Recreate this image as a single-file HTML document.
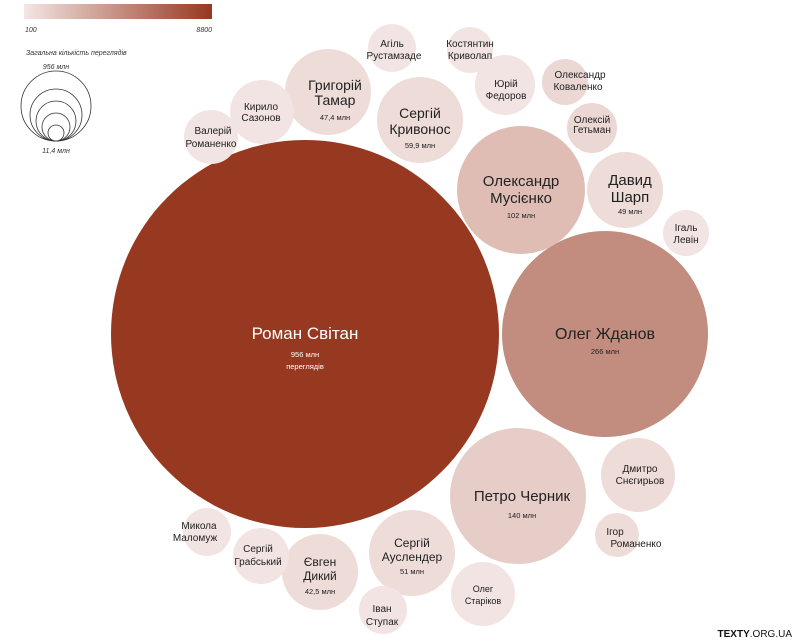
<!DOCTYPE html>
<html><head><meta charset="utf-8"><style>
html,body{margin:0;padding:0;background:#fff;}
svg{display:block;font-family:"Liberation Sans","DejaVu Sans",sans-serif;}
</style></head><body>
<svg width="797" height="643" viewBox="0 0 797 643" xmlns="http://www.w3.org/2000/svg">
<defs><linearGradient id="g" x1="0" x2="1"><stop offset="0" stop-color="#f3e6e4"/><stop offset="1" stop-color="#973820"/></linearGradient></defs>
<rect x="24" y="4" width="188" height="15" fill="url(#g)"/>
<g font-style="italic" font-size="7" fill="#333">
<text x="25" y="32">100</text><text x="212" y="32" text-anchor="end">8800</text>
<text x="26" y="55">Загальна кількість переглядів</text>
<text x="56" y="69" text-anchor="middle">956 млн</text>
<text x="56" y="153" text-anchor="middle">11,4 млн</text>
</g>
<g fill="none" stroke="#333" stroke-width="0.8">
<circle cx="56" cy="106" r="35"/><circle cx="56" cy="115" r="26"/><circle cx="56" cy="121" r="20"/><circle cx="56" cy="127" r="14"/><circle cx="56" cy="133" r="8"/>
</g>
<g>
<circle cx="305" cy="334" r="194" fill="#973820"/>
<circle cx="605" cy="334" r="103" fill="#c28c7e"/>
<circle cx="518" cy="496" r="68" fill="#e6cdc8"/>
<circle cx="521" cy="190" r="64" fill="#dfbdb5"/>
<circle cx="420" cy="120" r="43" fill="#eddcd8"/>
<circle cx="328" cy="92" r="43" fill="#eddcd8"/>
<circle cx="625" cy="190" r="38" fill="#eddcd8"/>
<circle cx="262" cy="112" r="32" fill="#f1e4e2"/>
<circle cx="211" cy="137" r="27" fill="#f1e4e2"/>
<circle cx="392" cy="48" r="24" fill="#f1e4e2"/>
<circle cx="470" cy="50" r="23" fill="#f1e4e2"/>
<circle cx="505" cy="85" r="30" fill="#f1e4e2"/>
<circle cx="565" cy="82" r="23" fill="#ebd8d5"/>
<circle cx="592" cy="128" r="25" fill="#ebd8d5"/>
<circle cx="686" cy="233" r="23" fill="#f1e4e2"/>
<circle cx="638" cy="475" r="37" fill="#eddcd8"/>
<circle cx="617" cy="535" r="22" fill="#eddcd8"/>
<circle cx="483" cy="594" r="32" fill="#f1e4e2"/>
<circle cx="412" cy="553" r="43" fill="#eddcd8"/>
<circle cx="320" cy="572" r="38" fill="#eddcd8"/>
<circle cx="383" cy="610" r="24" fill="#f1e4e2"/>
<circle cx="261" cy="556" r="28" fill="#f1e4e2"/>
<circle cx="207" cy="532" r="24" fill="#f1e4e2"/>
</g>
<g fill="#222" text-anchor="middle">
<text x="305" y="339" font-size="17" fill="#fff">Роман Світан</text>
<text x="305" y="357" font-size="7.5" fill="#fff">956 млн</text>
<text x="305" y="369" font-size="7.5" fill="#fff">переглядів</text>
<text x="605" y="339" font-size="16">Олег Жданов</text>
<text x="605" y="354" font-size="7.5">266 млн</text>
<text x="522" y="501" font-size="15">Петро Черник</text>
<text x="522" y="518" font-size="7.5">140 млн</text>
<text x="521" y="186" font-size="15">Олександр</text>
<text x="521" y="203" font-size="15">Мусієнко</text>
<text x="521" y="218" font-size="7.5">102 млн</text>
<text x="420" y="118" font-size="14">Сергій</text>
<text x="420" y="134" font-size="14">Кривонос</text>
<text x="420" y="148" font-size="7.5">59,9 млн</text>
<text x="335" y="90" font-size="14">Григорій</text>
<text x="335" y="105" font-size="14">Тамар</text>
<text x="335" y="120" font-size="7.5">47,4 млн</text>
<text x="630" y="185" font-size="15">Давид</text>
<text x="630" y="202" font-size="15">Шарп</text>
<text x="630" y="214" font-size="7.5">49 млн</text>
<text x="261" y="110" font-size="10">Кирило</text>
<text x="261" y="121" font-size="10">Сазонов</text>
<text x="213" y="134" font-size="10">Валерій</text>
<text x="211" y="147" font-size="10">Романенко</text>
<text x="392" y="47" font-size="10">Агіль</text>
<text x="394" y="59" font-size="10">Рустамзаде</text>
<text x="470" y="47" font-size="10">Костянтин</text>
<text x="470" y="59" font-size="10">Криволап</text>
<text x="506" y="87" font-size="10">Юрій</text>
<text x="506" y="99" font-size="10">Федоров</text>
<text x="580" y="78" font-size="10">Олександр</text>
<text x="578" y="90" font-size="10">Коваленко</text>
<text x="592" y="123" font-size="10">Олексій</text>
<text x="592" y="133" font-size="10">Гетьман</text>
<text x="686" y="231" font-size="10">Ігаль</text>
<text x="686" y="243" font-size="10">Левін</text>
<text x="640" y="472" font-size="10">Дмитро</text>
<text x="640" y="484" font-size="10">Снєгирьов</text>
<text x="615" y="535" font-size="10">Ігор</text>
<text x="636" y="547" font-size="10">Романенко</text>
<text x="483" y="592" font-size="9">Олег</text>
<text x="483" y="604" font-size="9">Старіков</text>
<text x="412" y="547" font-size="12">Сергій</text>
<text x="412" y="561" font-size="12">Ауслендер</text>
<text x="412" y="574" font-size="7.5">51 млн</text>
<text x="320" y="566" font-size="12">Євген</text>
<text x="320" y="580" font-size="12">Дикий</text>
<text x="320" y="594" font-size="7.5">42,5 млн</text>
<text x="382" y="612" font-size="10">Іван</text>
<text x="382" y="625" font-size="10">Ступак</text>
<text x="258" y="552" font-size="10">Сергій</text>
<text x="258" y="565" font-size="10">Грабський</text>
<text x="199" y="529" font-size="10">Микола</text>
<text x="195" y="541" font-size="10">Маломуж</text>
</g>
<text x="792" y="637" text-anchor="end" font-size="10" fill="#111"><tspan font-weight="bold">TEXTY</tspan>.ORG.UA</text>
</svg>
</body></html>
